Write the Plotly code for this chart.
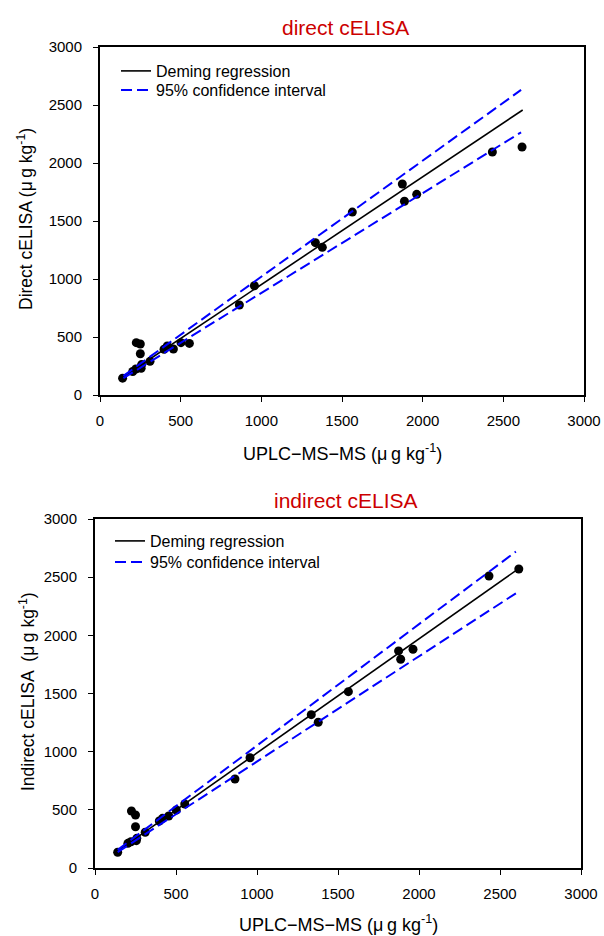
import plotly.graph_objects as go

# ---- data ----
uplc_x = [140, 203, 222, 225, 250, 250, 255, 258, 310, 397, 417, 455, 502, 554,
          864, 957, 1335, 1378, 1564, 1874, 1887, 1963, 2432, 2616]
direct_y = [145, 203, 224, 451, 440, 356, 230, 262, 290, 394, 422, 397, 451, 445,
            776, 942, 1313, 1273, 1577, 1819, 1670, 1730, 2095, 2138]
indirect_y = [135, 212, 226, 490, 456, 355, 235, 255, 307, 404, 427, 447, 499, 550,
              765, 948, 1318, 1253, 1516, 1866, 1794, 1880, 2510, 2570]

# regression parameters: (intercept, slope)
direct_deming = (23, 0.929)
direct_ci_upper = (20, 1.0)
direct_ci_lower = (20, 0.86)
direct_line_range = [140, 2620]
direct_ci_range = [145, 2610]

indirect_deming = (8, 0.981)
indirect_ci_upper = (10, 1.043)
indirect_ci_lower = (10, 0.905)
indirect_line_range = [144, 2611]
indirect_ci_range = [140, 2598]

tick_vals = [0, 500, 1000, 1500, 2000, 2500, 3000]
panel_titles = ["direct cELISA", "indirect cELISA"]
x_title = "UPLC\u2212MS\u2212MS (\u03bc\u2009g kg<sup>-1</sup>)"
y_titles = ["Direct cELISA (\u03bc\u2009g kg<sup>-1</sup>)",
            "Indirect cELISA  (\u03bc\u2009g kg<sup>-1</sup>)"]
legend_names = ["Deming regression", "95% confidence interval"]

FONT = "Liberation Sans, Arial, sans-serif"
W, H = 604, 936


def line_y(params, xs):
    a, b = params
    return [a + b * x for x in xs]


fig = go.Figure()

panels = [
    (direct_y, direct_deming, direct_ci_upper, direct_ci_lower, direct_line_range, direct_ci_range,
     "x", "y", "legend", "legend3"),
    (indirect_y, indirect_deming, indirect_ci_upper, indirect_ci_lower, indirect_line_range, indirect_ci_range,
     "x2", "y2", "legend2", "legend4"),
]

for ys, dem, up, lo, lr, cr, xa, ya, lg1, lg2 in panels:
    fig.add_trace(go.Scatter(x=uplc_x, y=ys, mode="markers", xaxis=xa, yaxis=ya,
                             marker=dict(color="black", size=9), showlegend=False))
    fig.add_trace(go.Scatter(x=lr, y=line_y(dem, lr), mode="lines", xaxis=xa, yaxis=ya,
                             line=dict(color="black", width=1.6), name=legend_names[0], legend=lg1))
    fig.add_trace(go.Scatter(x=cr, y=line_y(up, cr), mode="lines", xaxis=xa, yaxis=ya,
                             line=dict(color="#0000ff", width=2, dash="11px,5px"),
                             name=legend_names[1], legend=lg2))
    fig.add_trace(go.Scatter(x=cr, y=line_y(lo, cr), mode="lines", xaxis=xa, yaxis=ya,
                             line=dict(color="#0000ff", width=2, dash="11px,5px"),
                             showlegend=False))

# plot-area geometry in pixels
top_box = dict(x0=100, x1=584, y0=47, y1=395)
bot_box = dict(x0=95, x1=581, y0=519, y1=868)


def xdom(b):
    return [b["x0"] / W, b["x1"] / W]


def ydom(b):
    return [(H - b["y1"]) / H, (H - b["y0"]) / H]


axis_common = dict(range=[0, 3000], tickvals=tick_vals, showgrid=False, zeroline=False,
                   showline=True, linecolor="black", linewidth=2, mirror=True,
                   ticks="outside", ticklen=5, tickwidth=1, tickcolor="black",
                   automargin=False,
                   tickfont=dict(family=FONT, size=15, color="black"))
x_extra = dict(ticklabelstandoff=6)
y_extra = dict(ticklabelstandoff=8)

legend_common = dict(xanchor="left", yanchor="top", bgcolor="rgba(0,0,0,0)",
                     font=dict(family=FONT, size=16, color="black"),
                     tracegroupgap=0, itemwidth=30)

fig.update_layout(
    width=W, height=H,
    margin=dict(l=0, r=0, t=0, b=0),
    paper_bgcolor="white", plot_bgcolor="white",
    xaxis=dict(domain=xdom(top_box), anchor="y", **axis_common, **x_extra),
    yaxis=dict(domain=ydom(top_box), anchor="x", **axis_common, **y_extra),
    xaxis2=dict(domain=xdom(bot_box), anchor="y2", **axis_common, **x_extra),
    yaxis2=dict(domain=ydom(bot_box), anchor="x2", **axis_common, **y_extra),
    legend=dict(x=116 / W, y=1 - 54 / H, **legend_common),
    legend3=dict(x=116 / W, y=1 - 73 / H, **legend_common),
    legend2=dict(x=110 / W, y=1 - 524 / H, **legend_common),
    legend4=dict(x=110 / W, y=1 - 545 / H, **legend_common),
    showlegend=True,
)

annots = [
    # panel titles
    dict(text=panel_titles[0], x=345 / W, y=1 - 27 / H, font=dict(size=21, color="#cc0000")),
    dict(text=panel_titles[1], x=346 / W, y=1 - 500 / H, font=dict(size=21, color="#cc0000")),
    # x titles
    dict(text=x_title, x=342 / W, y=1 - 452 / H, font=dict(size=18, color="black")),
    dict(text=x_title, x=338 / W, y=1 - 923 / H, font=dict(size=18, color="black")),
    # y titles
    dict(text=y_titles[0], x=25 / W, y=1 - 219 / H, textangle=-90, font=dict(size=17.5, color="black")),
    dict(text=y_titles[1], x=27 / W, y=1 - 692 / H, textangle=-90, font=dict(size=17.5, color="black")),
]
for a in annots:
    a["font"]["family"] = FONT
    fig.add_annotation(xref="paper", yref="paper", showarrow=False,
                       xanchor="center", yanchor="middle", **a)

fig.write_html("out.html", config={"displayModeBar": False},
               post_script="document.body.style.margin='0';document.body.style.overflow='hidden';")
